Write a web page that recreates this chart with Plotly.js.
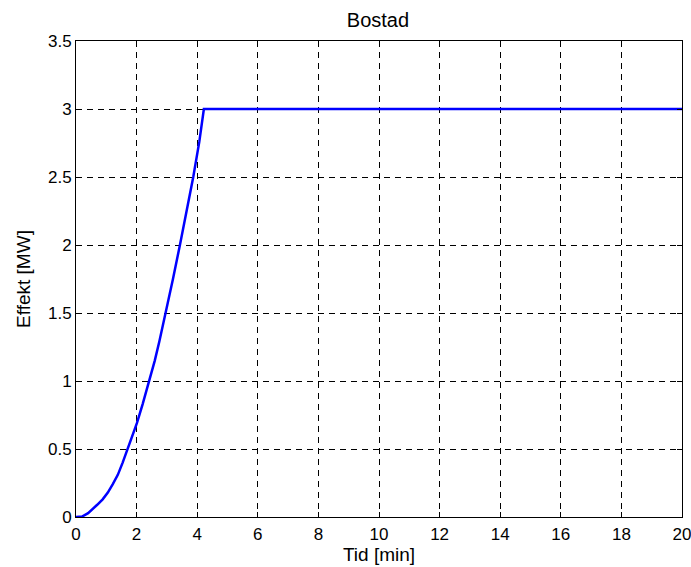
<!DOCTYPE html>
<html>
<head>
<meta charset="utf-8">
<script src="https://cdn.plot.ly/plotly-3.0.1.min.js"></script>
<style>html,body{margin:0;padding:0;background:#fff;}</style>
</head>
<body>
<div id="chart" style="width:691px;height:567px;"></div>
<script>
const timeMin = [0, 0.2, 0.4, 0.55, 0.7, 0.88, 1.05, 1.21, 1.38, 1.54, 1.70, 1.86, 2.01, 2.2, 2.42, 2.6, 2.75, 2.97, 3.2, 3.43, 3.65, 3.87, 4.07, 4.22, 6, 8, 10, 12, 14, 16, 18, 20];
const powerMW = [0, 0.003, 0.028, 0.056, 0.09, 0.13, 0.18, 0.24, 0.31, 0.40, 0.5, 0.585, 0.69, 0.83, 1.0, 1.15, 1.29, 1.51, 1.75, 2.0, 2.25, 2.5, 2.76, 3.0, 3.0, 3.0, 3.0, 3.0, 3.0, 3.0, 3.0, 3.0];
const xTicks = [0, 2, 4, 6, 8, 10, 12, 14, 16, 18, 20];
const yTicks = [0, 0.5, 1, 1.5, 2, 2.5, 3, 3.5];
const yTickText = ['0', '0.5', '1', '1.5', '2', '2.5', '3', '3.5'];

const font = {family: 'Arial, "Liberation Sans", sans-serif', color: '#000'};
const axisCommon = {
  showline: true, linecolor: '#000', linewidth: 1, mirror: 'ticks',
  ticks: 'inside', ticklen: 5, tickcolor: '#000',
  showgrid: true, gridcolor: '#000', gridwidth: 1, griddash: '6px,5px',
  zeroline: false, ticklabeloverflow: 'allow',
  tickfont: Object.assign({size: 17}, font)
};

const trace = {
  x: timeMin, y: powerMW, type: 'scatter', mode: 'lines',
  line: {color: '#0000ff', width: 2.5}, hoverinfo: 'skip'
};

const layout = {
  width: 691, height: 567,
  margin: {l: 76, r: 9, t: 41, b: 50},
  paper_bgcolor: '#fff', plot_bgcolor: '#fff',
  showlegend: false,
  title: {text: 'Bostad', font: Object.assign({size: 20}, font), x: 0.547, xanchor: 'center', yref: 'container', y: 0.965, yanchor: 'middle'},
  xaxis: Object.assign({}, axisCommon, {
    range: [0, 20], tickvals: xTicks, ticktext: xTicks.map(String),
    ticklabelstandoff: 2,
    title: {text: 'Tid [min]', font: Object.assign({size: 19}, font), standoff: 2}
  }),
  yaxis: Object.assign({}, axisCommon, {
    range: [0, 3.5], tickvals: yTicks, ticktext: yTickText,
    ticklabelstandoff: 0,
    title: {text: 'Effekt [MW]', font: Object.assign({size: 19}, font), standoff: 12}
  })
};

Plotly.newPlot('chart', [trace], layout, {displayModeBar: false, staticPlot: true});
</script>
</body>
</html>
